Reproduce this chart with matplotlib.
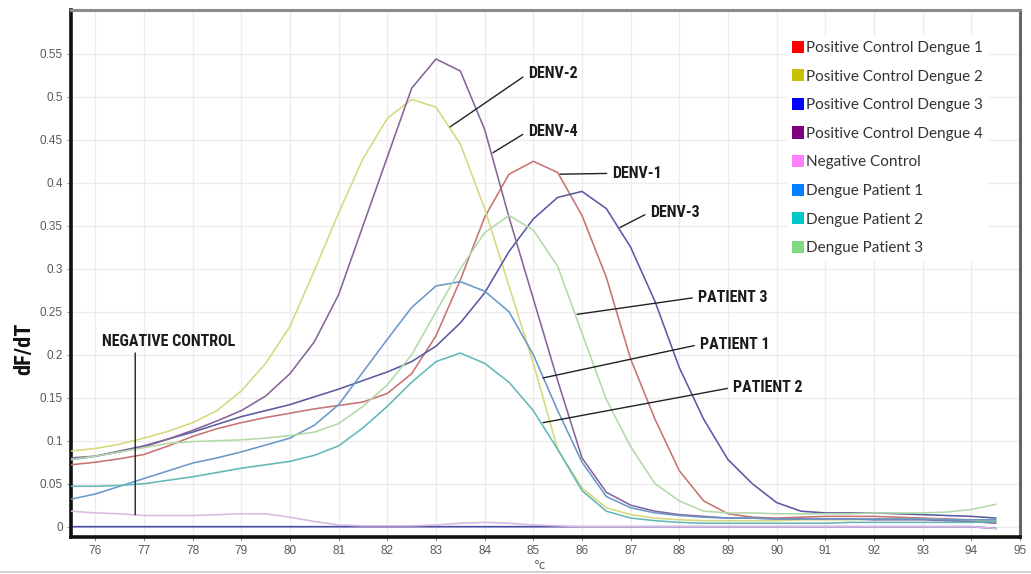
import matplotlib
matplotlib.use("Agg")
import matplotlib.pyplot as plt
from matplotlib.patches import Patch
from matplotlib.lines import Line2D
from matplotlib import font_manager as fm

# ---------------- data ----------------
temps = [75.5, 76, 76.5, 77, 77.5, 78, 78.5, 79, 79.5, 80, 80.5, 81, 81.5, 82, 82.5,
         83, 83.5, 84, 84.5, 85, 85.5, 86, 86.5, 87, 87.5, 88, 88.5, 89, 89.5, 90,
         90.5, 91, 91.5, 92, 92.5, 93, 93.5, 94, 94.5]

denv1 = [.072, .075, .079, .084, .094, .105, .114, .121, .127, .132, .137, .141, .145, .155, .178,
         .222, .287, .36, .41, .425, .412, .362, .29, .195, .125, .065, .03, .015, .011, .01,
         .011, .012, .012, .012, .011, .010, .009, .008, .006]
denv2 = [.088, .091, .096, .103, .111, .121, .135, .158, .19, .233, .298, .365, .428, .475, .497,
         .488, .445, .37, .28, .19, .09, .045, .022, .014, .01, .008, .007, .007, .007, .007,
         .008, .008, .008, .009, .009, .009, .008, .007, .006]
denv3 = [.078, .082, .088, .094, .102, .110, .119, .128, .135, .142, .151, .160, .170, .180, .192,
         .210, .237, .272, .320, .358, .383, .390, .370, .325, .262, .185, .125, .078, .05, .028,
         .018, .016, .016, .016, .015, .014, .013, .012, .010]
denv4 = [.080, .082, .087, .093, .102, .112, .123, .135, .152, .178, .215, .27, .35, .43, .51,
         .544, .530, .462, .36, .265, .17, .08, .04, .025, .018, .014, .012, .010, .010, .009,
         .009, .009, .009, .008, .008, .008, .007, .006, .004]
negative = [.018, .016, .015, .013, .013, .013, .014, .015, .015, .011, .006, .002, .001, .001, .001,
            .002, .004, .005, .004, .002, .001, 0, 0, 0, 0, 0, 0, 0, 0, 0,
            0, 0, 0, 0, 0, 0, 0, 0, -.002]
patient1 = [.032, .038, .047, .056, .065, .074, .080, .087, .095, .103, .118, .142, .180, .218, .255,
            .280, .285, .274, .250, .200, .135, .075, .035, .022, .016, .013, .011, .010, .010, .009,
            .009, .009, .009, .009, .009, .009, .008, .008, .008]
patient2 = [.047, .047, .048, .050, .054, .058, .063, .068, .072, .076, .083, .094, .115, .140, .168,
            .192, .202, .190, .168, .135, .090, .042, .018, .010, .007, .005, .004, .004, .004, .004,
            .004, .004, .005, .005, .005, .005, .005, .005, .006]
patient3 = [.078, .082, .087, .092, .097, .099, .100, .101, .103, .106, .110, .120, .140, .165, .200,
            .250, .300, .342, .362, .345, .303, .225, .148, .093, .050, .030, .018, .016, .016, .015,
            .015, .015, .015, .016, .016, .016, .017, .020, .026]
baseline = [0] * 38 + [-.002]

series_names = ["Positive Control Dengue 1", "Positive Control Dengue 2",
                "Positive Control Dengue 3", "Positive Control Dengue 4",
                "Negative Control", "Dengue Patient 1", "Dengue Patient 2",
                "Dengue Patient 3"]
series_values = [denv1, denv2, denv3, denv4, negative, patient1, patient2, patient3]
line_colors = ["#c87272", "#d6d87c", "#5a5aa2", "#86649a", "#d9b8e2",
               "#6a98c8", "#62b8b8", "#b2daa8"]
legend_colors = ["#ff0000", "#c8c000", "#0000ff", "#800080", "#ff80ff",
                 "#0080ff", "#00c8c8", "#80d880"]

annotations = [  # label, curve point (T, dF/dT), text point (T, dF/dT)
    ("DENV-2", (83.29, 0.465), (84.89, 0.527)),
    ("DENV-4", (84.17, 0.435), (84.89, 0.460)),
    ("DENV-1", (85.55, 0.410), (86.62, 0.411)),
    ("DENV-3", (86.78, 0.348), (87.40, 0.366)),
    ("PATIENT 3", (85.90, 0.247), (88.38, 0.267)),
    ("PATIENT 1", (85.20, 0.173), (88.42, 0.212)),
    ("PATIENT 2", (85.20, 0.121), (89.10, 0.162)),
]
neg_label = "NEGATIVE CONTROL"
neg_text_pos = (76.14, 0.215)
neg_line = ((76.82, 0.202), (76.82, 0.014))

xticks = list(range(76, 96))
yticks = [0, 0.05, 0.1, 0.15, 0.2, 0.25, 0.3, 0.35, 0.4, 0.45, 0.5, 0.55]


# ---------------- pick a condensed bold font if one is installed ----------------
def _w(f):
    w = f.weight
    if isinstance(w, str):
        return {"bold": 700, "heavy": 800, "black": 900, "semibold": 600,
                "demibold": 600}.get(w, 400)
    return w


def condensed_bold(size_narrow, size_fallback):
    cands = []
    for f in fm.fontManager.ttflist:
        narrow = ("Narrow" in f.name or "Condensed" in f.name or
                  f.stretch in ("condensed", "semi-condensed", "extra-condensed",
                                "ultra-condensed") or
                  (isinstance(f.stretch, int) and f.stretch < 500))
        if narrow and _w(f) >= 700 and f.style == "normal":
            cands.append(f)
    pref = ["Liberation Sans Narrow", "Roboto Condensed", "Open Sans Condensed",
            "DejaVu Sans"]
    cands.sort(key=lambda f: pref.index(f.name) if f.name in pref else 99)
    if cands:
        return fm.FontProperties(fname=cands[0].fname, size=size_narrow)
    return fm.FontProperties(family=["Roboto", "DejaVu Sans"], weight="bold",
                             size=size_fallback)


ann_fp = condensed_bold(11.5, 9.5)
ylab_fp = condensed_bold(16, 14)

# ---------------- figure ----------------
fig = plt.figure(figsize=(10.31, 5.74), dpi=100)
ax = fig.add_axes([71 / 1031, 37 / 574, 949 / 1031, 527 / 574])

ax.plot(temps, baseline, color="#4a4aa8", lw=1.2, zorder=2)
for vals, col in zip(series_values, line_colors):
    ax.plot(temps, vals, color=col, lw=1.15, zorder=3)

ax.set_xlim(75.5, 95)
ax.set_ylim(-0.012, 0.601)
ax.set_xticks(xticks)
ax.set_xticklabels([str(t) for t in xticks])
ax.set_yticks(yticks)
ax.set_yticklabels([f"{v:g}" for v in yticks])
ax.grid(True, color="#ececec", lw=1.0, zorder=0)
ax.set_axisbelow(True)
ax.tick_params(direction="out", length=3, width=0.8, color="#999999",
               labelcolor="#5a5a5a", labelsize=8.5, pad=3)
for lab in ax.get_xticklabels() + ax.get_yticklabels():
    lab.set_family("Liberation Sans")

ax.spines["left"].set_color("#111111")
ax.spines["left"].set_linewidth(2.6)
ax.spines["bottom"].set_color("#111111")
ax.spines["bottom"].set_linewidth(2.6)
ax.spines["top"].set_color("#8a8a8a")
ax.spines["top"].set_linewidth(2.2)
ax.spines["right"].set_color("#666666")
ax.spines["right"].set_linewidth(2.2)

for label, pt, txt in annotations:
    ax.annotate(label, xy=pt, xytext=txt, ha="left", va="center",
                fontproperties=ann_fp, color="#1a1a1a",
                arrowprops=dict(arrowstyle="-", color="#222222", lw=1.0,
                                relpos=(0, 0.5), shrinkA=2, shrinkB=0),
                zorder=6)
ax.text(neg_text_pos[0], neg_text_pos[1], neg_label, ha="left", va="center",
        fontproperties=ann_fp, color="#1a1a1a", zorder=6)
ax.annotate("", xy=neg_line[1], xytext=neg_line[0],
            arrowprops=dict(arrowstyle="-", color="#222222", lw=1.0,
                            shrinkA=0, shrinkB=0))

ax.set_ylabel("dF/dT", fontproperties=ylab_fp, color="#111111")
ax.yaxis.set_label_coords(-0.038, 0.358)
ax.set_xlabel("°c", fontsize=8.5, color="#555555")
ax.xaxis.set_label_coords(0.494, -0.041)

handles = [Patch(facecolor=c, edgecolor="none") for c in legend_colors]
leg = ax.legend(handles, series_names, loc="upper left",
                bbox_to_anchor=((787 - 71) / 949, (537 - 36) / 527),
                prop=dict(family=["Lato", "DejaVu Sans"], size=11),
                frameon=True, facecolor="white", edgecolor="white", framealpha=1,
                fancybox=False, handlelength=0.8, handleheight=0.85,
                handletextpad=0.12, labelspacing=0.93, borderpad=0.3,
                borderaxespad=0)
for t in leg.get_texts():
    t.set_color("#333333")
leg.set_zorder(7)

fig.add_artist(Line2D([0, 1], [0.003, 0.003], color="#c8c8c8", lw=1.2,
                      transform=fig.transFigure))

fig.savefig("out.png", dpi=100, facecolor="white")
